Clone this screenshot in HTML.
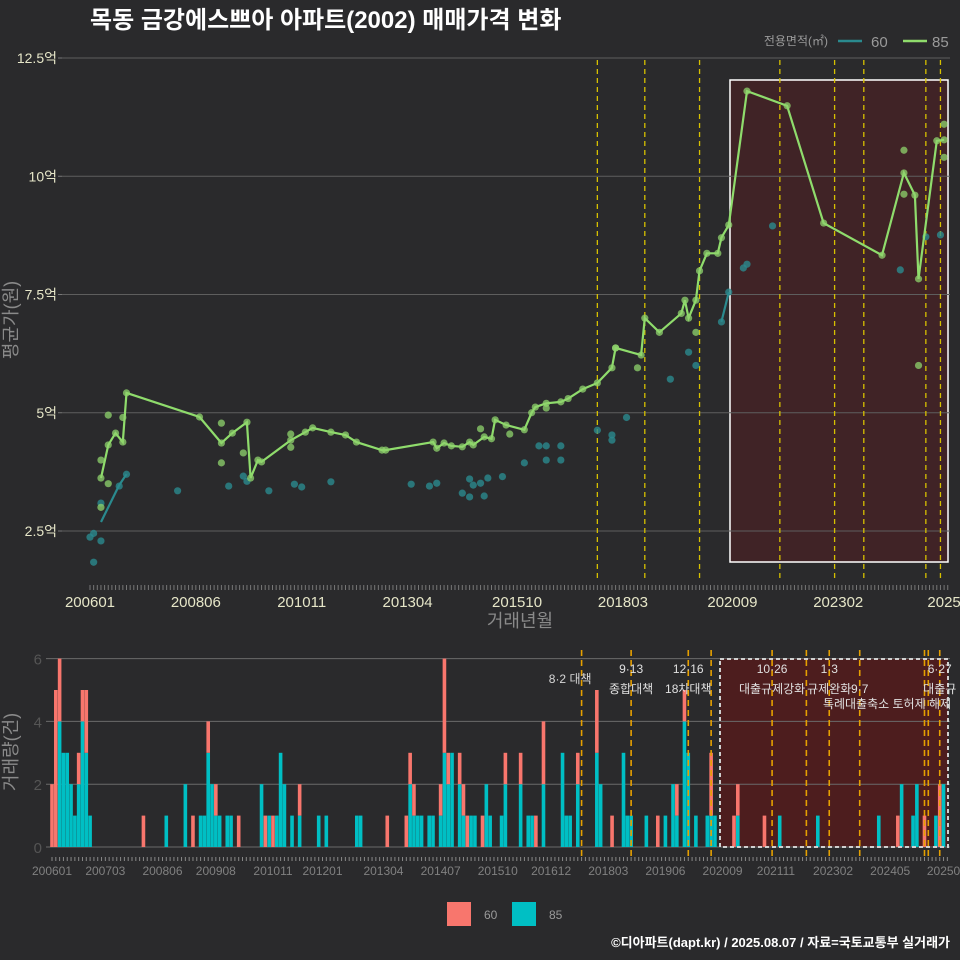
<!DOCTYPE html>
<html><head><meta charset="utf-8">
<style>
html,body{margin:0;padding:0;background:#2a2a2c;}
svg{display:block;font-family:"Liberation Sans","Noto Sans CJK KR",sans-serif;}
</style></head>
<body>
<svg id="chart" width="960" height="960" viewBox="0 0 960 960" xmlns="http://www.w3.org/2000/svg">
<rect width="960" height="960" fill="#2a2a2c"/>
<text x="90" y="28" fill="#ffffff" font-size="24" font-weight="bold">목동 금강에스쁘아 아파트(2002) 매매가격 변화</text>
<g>
<text x="828" y="45" fill="#9a9a9a" font-size="12" text-anchor="end">전용면적(㎡)</text>
<line x1="838" y1="41" x2="862" y2="41" stroke="#2a8a8e" stroke-width="2.5"/>
<text x="871" y="47" fill="#9a9a9a" font-size="15">60</text>
<line x1="903" y1="41" x2="927" y2="41" stroke="#8fdc6c" stroke-width="2.5"/>
<text x="932" y="47" fill="#9a9a9a" font-size="15">85</text>
</g>
<text transform="translate(17,320) rotate(-90)" fill="#8a8a8a" font-size="18" text-anchor="middle">평균가(원)</text>
<text x="520" y="627" fill="#8a8a8a" font-size="18" text-anchor="middle">거래년월</text>
<text transform="translate(17,752) rotate(-90)" fill="#8a8a8a" font-size="18" text-anchor="middle">거래량(건)</text>
<g id="topPanel"></g>
<g id="botPanel"></g>
<g>
<rect x="447" y="902" width="24" height="24" fill="#f8766d"/>
<text x="484" y="919" fill="#9a9a9a" font-size="12">60</text>
<rect x="512" y="902" width="24" height="24" fill="#00bfc4"/>
<text x="549" y="919" fill="#9a9a9a" font-size="12">85</text>
</g>
<text x="950" y="947" fill="#ffffff" font-size="13" font-weight="bold" text-anchor="end">©디아파트(dapt.kr) / 2025.08.07 / 자료=국토교통부 실거래가</text>
</svg>
<script>
// months since 2006-01
const topTickMonths = [0,29,58,87,117,146,176,205,234];
const topTickLabels = ["200601","200806","201011","201304","201510","201803","202009","202302","2025"];
const yTicks = [2.5,5,7.5,10,12.5];
const yTickLabels = ["2.5억","5억","7.5억","10억","12.5억"];
const line85M = [3,5,7,9,10,30,36,39,43,44,46,47,55,59,61,66,70,73,80,81,94,95,97,99,102,104,105,108,110,111,114,119,121,122,125,129,131,135,139,143,144,151,152,156,162,163,164,166,167,169,172,173,175,180,191,201,217,223,226,227,232,234];
const line85V = [3.62,4.32,4.57,4.38,5.42,4.91,4.36,4.57,4.8,3.62,4.0,3.96,4.42,4.59,4.68,4.59,4.53,4.38,4.21,4.21,4.38,4.25,4.36,4.3,4.28,4.38,4.32,4.49,4.45,4.85,4.74,4.64,5.0,5.12,5.2,5.23,5.3,5.5,5.63,5.95,6.37,6.22,7.0,6.7,7.1,7.38,7.0,7.38,8.0,8.37,8.37,8.7,8.97,11.8,11.49,9.01,8.33,10.07,9.6,7.83,10.75,10.77];
const line60M = [3,8,10,null,173,175];
const line60V = [2.69,3.47,3.7,null,6.92,7.55];
const dots60M = [0,1,1,3,3,8,10,24,38,42,43,49,56,58,66,88,93,95,102,104,104,105,107,108,109,113,119,123,125,125,129,129,139,143,143,147,159,164,166,173,175,187,179,180,222,229,233];
const dots60V = [2.37,2.45,1.84,2.29,3.09,3.45,3.7,3.35,3.45,3.66,3.55,3.35,3.49,3.43,3.54,3.49,3.45,3.51,3.3,3.22,3.6,3.47,3.51,3.24,3.62,3.65,3.94,4.3,4.3,4.0,4.3,4.0,4.63,4.53,4.42,4.9,5.71,6.28,6.0,6.92,7.55,8.95,8.06,8.14,8.02,8.72,8.76];
const dots85M = [223,234,234,227,223,166,150,144,5,3,5,3,9,36,36,42,55,55,107,115,125];
const dots85V = [10.55,11.1,10.4,6.0,9.62,6.7,5.95,6.37,4.95,3.0,3.5,4.0,4.9,4.78,3.94,4.15,4.55,4.27,4.66,4.55,5.1];
const policyTopM = [139,152,167,189,204,212,229,233];
const policyBotM = [139,152,167,173,189,198,204,212,229,230,233];
const barM =   [0,1,2,3,4,5,6,7,8,9,10,24,30,35,37,39,40,41,42,43,44,46,47,49,55,56,57,58,59,60,61,63,65,70,72,80,81,88,93,94,95,96,97,99,100,102,103,104,105,107,108,109,110,111,113,114,115,118,119,123,125,126,127,129,134,135,136,138,143,144,147,150,151,152,156,159,161,163,164,166,167,169,172,173,174,179,180,187,191,201,217,222,223,226,227,229,232,233,234];
const bar85 = [0,0,4,3,3,2,1,2,4,3,1,0,1,2,0,1,1,3,2,1,1,1,1,0,2,0,1,0,1,3,2,1,1,1,1,1,1,0,0,2,1,1,1,1,1,1,3,2,3,2,1,0,1,1,0,2,1,1,2,2,1,1,0,2,3,1,1,2,3,2,0,3,1,1,1,0,1,2,1,4,3,1,1,1,1,0,1,0,1,1,1,0,2,1,2,0,1,0,2];
const bar60 = [2,5,2,0,0,0,0,1,1,2,0,1,0,0,1,0,0,1,0,1,0,0,0,1,0,1,0,1,0,0,0,0,1,0,0,0,0,1,1,1,1,0,0,0,0,1,3,1,0,1,1,1,0,0,1,0,0,0,1,1,0,0,1,2,0,0,0,1,2,0,1,0,0,0,0,1,0,0,1,1,0,0,0,2,0,1,1,1,0,0,0,1,0,0,0,1,0,2,0];
const botTickLabels = ["200601","200703","200806","200908","201011","201201","201304","201407","201510","201612","201803","201906","202009","202111","202302","202405","20250"];
const botTickMonths = [0,14,29,43,58,71,87,102,117,131,146,161,176,190,205,220,234];
const annTop = ["","9·13","12·16","10·26","1·3","","","6·27"];
const annBot = ["","종합대책","18차대책","대출규제강화","규제완화","9·7","","대출규"];
const annM = [136,152,167,189,204,212,229,233];

const NS="http://www.w3.org/2000/svg";
function mk(parent,tag,attrs,name){const e=document.createElementNS(NS,tag);for(const k in attrs)e.setAttribute(k,attrs[k]);


parent.appendChild(e);return e;}
const topG=document.getElementById('topPanel'), botG=document.getElementById('botPanel');
const xT=m=>90+3.65*m, yT=v=>531-(v-2.5)*47.3;
const xB=m=>52+3.81*m, yB=c=>847-c*31.4;

// top panel
mk(topG,'rect',{x:730,y:80,width:218,height:482,fill:'#5a1a1e','fill-opacity':0.45,stroke:'#ffffff','stroke-width':1.5},'highlight-box');
yTicks.forEach((v,i)=>{
  mk(topG,'line',{x1:62,x2:950,y1:yT(v),y2:yT(v),stroke:'#5e5e5e','stroke-width':1},'y-gridline');
  mk(topG,'line',{x1:58,x2:62,y1:yT(v),y2:yT(v),stroke:'#777'},'y-tick');
  const t=mk(topG,'text',{x:57,y:yT(v)+5,fill:'#e6e6c8','font-size':14,'text-anchor':'end'},'y-tick-label');t.textContent=yTickLabels[i];
});
for(let m=0;m<=235;m++) mk(topG,'line',{x1:xT(m),x2:xT(m),y1:585,y2:590,stroke:'#777','stroke-width':1},'x-minor-tick');
topTickMonths.forEach((m,i)=>{const t=mk(topG,'text',{x:xT(m),y:607,fill:'#e6e6c8','font-size':15,'text-anchor':'middle'},'x-tick-label');t.textContent=topTickLabels[i];});
policyTopM.forEach(m=>mk(topG,'line',{x1:xT(m),x2:xT(m),y1:60,y2:578,stroke:'#d6c000','stroke-width':1.3,'stroke-dasharray':'5,4'},'policy-line'));
function path(M,V,f){let d='',pen=false;M.forEach((m,i)=>{if(m===null){pen=false;return;}d+=(pen?'L':'M')+f[0](m).toFixed(1)+','+f[1](V[i]).toFixed(1);pen=true;});return d;}
mk(topG,'path',{d:path(line60M,line60V,[xT,yT]),fill:'none',stroke:'#2a8a8e','stroke-width':2.2},'series-60-line');
dots60M.forEach((m,i)=>mk(topG,'circle',{cx:xT(m),cy:yT(dots60V[i]),r:3.6,fill:'#2a8a8e','fill-opacity':0.8},'point-60'));
mk(topG,'path',{d:path(line85M,line85V,[xT,yT]),fill:'none',stroke:'#8fdc6c','stroke-width':2.2},'series-85-line');
line85M.forEach((m,i)=>mk(topG,'circle',{cx:xT(m),cy:yT(line85V[i]),r:3.6,fill:'#8fd46c','fill-opacity':0.75},'point-85'));
dots85M.forEach((m,i)=>mk(topG,'circle',{cx:xT(m),cy:yT(dots85V[i]),r:3.6,fill:'#8fd46c','fill-opacity':0.75},'point-85'));

// bottom panel
mk(botG,'rect',{x:720,y:659,width:228,height:188,fill:'#5a1a1a','fill-opacity':0.75},'highlight-box-bottom');
[0,2,4,6].forEach(c=>{
  mk(botG,'line',{x1:46,x2:950,y1:yB(c),y2:yB(c),stroke:'#6a6a6a','stroke-width':1},'y-gridline');
  const t=mk(botG,'text',{x:42,y:yB(c)+6,fill:'#555','font-size':15,'text-anchor':'end'},'y-tick-label');t.textContent=c;
});
barM.forEach((m,i)=>{
  const x=xB(m)-1.8;
  if(bar85[i]>0) mk(botG,'rect',{x:x,y:yB(bar85[i]),width:3.6,height:bar85[i]*31.4,fill:'#00bfc4'},'bar-85');
  if(bar60[i]>0) mk(botG,'rect',{x:x,y:yB(bar85[i]+bar60[i]),width:3.6,height:bar60[i]*31.4,fill:'#f8766d'},'bar-60');
});
mk(botG,'rect',{x:720,y:659,width:228,height:188,fill:'none',stroke:'#d0d0d0','stroke-width':2,'stroke-dasharray':'4,3'},'highlight-box-border');
policyBotM.forEach(m=>mk(botG,'line',{x1:xB(m),x2:xB(m),y1:650,y2:856,stroke:'#e6a000','stroke-width':1.6,'stroke-dasharray':'6,4'},'policy-line'));
for(let m=0;m<=235;m++) mk(botG,'line',{x1:xB(m),x2:xB(m),y1:857,y2:861,stroke:'#888','stroke-width':1},'x-minor-tick');
botTickMonths.forEach((m,i)=>{const t=mk(botG,'text',{x:xB(m),y:875,fill:'#808080','font-size':12,'text-anchor':'middle'},'x-tick-label');t.textContent=botTickLabels[i];});
annM.forEach((m,i)=>{
  if(annTop[i]){const t=mk(botG,'text',{x:xB(m),y:673,fill:'#e0e0e0','font-size':12,'text-anchor':'middle'},'policy-date');t.textContent=annTop[i];}
  if(annBot[i]){const t=mk(botG,'text',{x:xB(m),y:693,fill:'#e0e0e0','font-size':12,'text-anchor':'middle'},'policy-name');t.textContent=annBot[i];}
});
const t0=mk(botG,'text',{x:xB(136),y:683,fill:'#d8d8d8','font-size':12,'text-anchor':'middle'},'policy-name');t0.textContent='8·2 대책';
const t1=mk(botG,'text',{x:887,y:708,fill:'#e0e0e0','font-size':12,'text-anchor':'middle'},'policy-name');t1.textContent='특례대출축소 토허제 해제';
</script>
</body></html>
